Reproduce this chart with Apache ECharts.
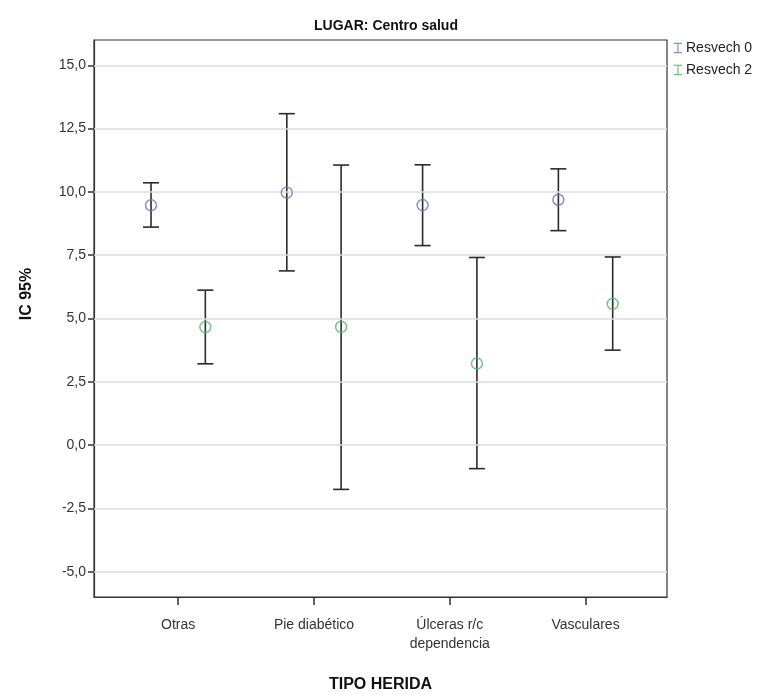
<!DOCTYPE html>
<html>
<head>
<meta charset="utf-8">
<script src="https://cdn.jsdelivr.net/npm/echarts@6/dist/echarts.min.js"></script>
<style>
  html, body { margin: 0; padding: 0; background: #fff; }
  #chart { width: 769px; height: 698px; }
</style>
</head>
<body>
<div id="chart"></div>
<script>
var categories = ['Otras', 'Pie diabético', 'Úlceras r/c\ndependencia', 'Vasculares'];
var seriesNames = ['Resvech 0', 'Resvech 2'];

// IC 95%: media, limite inferior, limite superior
var res0Mean = [9.47, 9.97, 9.48, 9.69];
var res0Low = [8.61, 6.88, 7.88, 8.47];
var res0High = [10.36, 13.09, 11.07, 10.91];

var res2Mean = [4.66, 4.67, 3.22, 5.58];
var res2Low = [3.21, -1.75, -0.93, 3.75];
var res2High = [6.12, 11.06, 7.41, 7.43];

var yTicks = [-5, -2.5, 0, 2.5, 5, 7.5, 10, 12.5, 15];
var xTicks = [0, 1, 2, 3];

var blue = '#6675b8';
var green = '#4db56a';
var barColor = '#2b2b2b';
var font = 'Liberation Sans, Arial, sans-serif';
var iBeam = 'path://M0,0h9v1.4h-3.8v9.2h3.8v1.4h-9v-1.4h3.8v-9.2h-3.8z';

var chart = echarts.init(document.getElementById('chart'));

function errorBar(params, api) {
    var x = api.value(0);
    var top = api.coord([x, api.value(2)]);
    var bot = api.coord([x, api.value(1)]);
    var hw = 8;
    var st = { stroke: barColor, lineWidth: 1.6 };
    return {
        type: 'group',
        children: [
            { type: 'line', shape: { x1: top[0], y1: top[1], x2: bot[0], y2: bot[1] }, style: st },
            { type: 'line', shape: { x1: top[0] - hw, y1: top[1], x2: top[0] + hw, y2: top[1] }, style: st },
            { type: 'line', shape: { x1: bot[0] - hw, y1: bot[1], x2: bot[0] + hw, y2: bot[1] }, style: st }
        ]
    };
}

function bars(low, high, off) {
    return low.map(function (v, i) { return [i + off, v, high[i]]; });
}
function points(mean, off) {
    return mean.map(function (v, i) { return [i + off, v]; });
}

var options = {
    animation: false,
    backgroundColor: '#fff',
    title: {
        text: 'LUGAR: Centro salud',
        left: 381,
        textAlign: 'center',
        top: 14,
        textStyle: {
            fontFamily: 'Liberation Sans Narrow, Arial Narrow, Liberation Sans, sans-serif',
            fontSize: 14,
            fontWeight: 'bold',
            color: '#111'
        }
    },
    legend: {
        orient: 'vertical',
        left: 674,
        top: 41,
        padding: 0,
        itemWidth: 8,
        itemHeight: 13,
        itemGap: 8,
        textStyle: { fontFamily: font, fontSize: 14, color: '#222', padding: [0, 0, 0, -1] },
        data: [
            { name: seriesNames[0], icon: iBeam, itemStyle: { color: blue, borderWidth: 0 } },
            { name: seriesNames[1], icon: iBeam, itemStyle: { color: green, borderWidth: 0 } }
        ]
    },
    grid: {
        left: 94,
        right: 102,
        top: 40,
        bottom: 92,
        show: true,
        borderColor: '#333',
        borderWidth: 1.2,
        containLabel: false
    },
    xAxis: {
        type: 'value',
        min: -0.62,
        max: 3.6,
        name: 'TIPO HERIDA',
        nameLocation: 'middle',
        nameGap: 80,
        nameTextStyle: { fontFamily: font, fontSize: 16, fontWeight: 'bold', color: '#111' },
        axisLine: { show: true, onZero: false, lineStyle: { color: '#333', width: 1.2 } },
        axisTick: { show: true, length: 8, customValues: xTicks, lineStyle: { color: '#333', width: 1.5 } },
        axisLabel: {
            customValues: xTicks,
            margin: 19,
            fontFamily: font,
            fontSize: 14,
            color: '#333',
            lineHeight: 19,
            formatter: function (v) { return categories[Math.round(v)]; }
        },
        splitLine: { show: false }
    },
    yAxis: {
        type: 'value',
        min: -6,
        max: 16,
        axisLine: { show: true, onZero: false, lineStyle: { color: '#333', width: 1.2 } },
        axisTick: { show: true, length: 6, customValues: yTicks, lineStyle: { color: '#333', width: 1.5 } },
        axisLabel: {
            customValues: yTicks,
            margin: 8,
            fontFamily: font,
            fontSize: 14,
            color: '#333',
            formatter: function (v) { return v.toFixed(1).replace('.', ','); }
        },
        splitLine: { show: false }
    },
    graphic: [{
        type: 'text',
        x: 27,
        y: 294,
        rotation: Math.PI / 2,
        style: {
            text: 'IC 95%',
            fontFamily: font,
            fontSize: 16,
            fontWeight: 'bold',
            fill: '#111',
            align: 'center',
            verticalAlign: 'middle'
        }
    }],
    series: [
        {
            type: 'line',
            data: [],
            silent: true,
            markLine: {
                silent: true,
                symbol: 'none',
                label: { show: false },
                lineStyle: { color: '#dcdcdc', type: 'solid', width: 1.5 },
                data: yTicks.map(function (v) { return { yAxis: v }; })
            }
        },
        {
            type: 'custom',
            renderItem: errorBar,
            encode: { x: 0, y: [1, 2] },
            data: bars(res0Low, res0High, -0.2),
            z: 3
        },
        {
            type: 'custom',
            renderItem: errorBar,
            encode: { x: 0, y: [1, 2] },
            data: bars(res2Low, res2High, 0.2),
            z: 3
        },
        {
            name: seriesNames[0],
            type: 'scatter',
            symbol: 'circle',
            symbolSize: 11,
            data: points(res0Mean, -0.2),
            itemStyle: { color: 'rgba(0,0,0,0)', borderColor: blue, borderWidth: 1.5 },
            z: 5
        },
        {
            name: seriesNames[1],
            type: 'scatter',
            symbol: 'circle',
            symbolSize: 11,
            data: points(res2Mean, 0.2),
            itemStyle: { color: 'rgba(0,0,0,0)', borderColor: green, borderWidth: 1.5 },
            z: 5
        }
    ]
};

chart.setOption(options);
</script>
</body>
</html>
